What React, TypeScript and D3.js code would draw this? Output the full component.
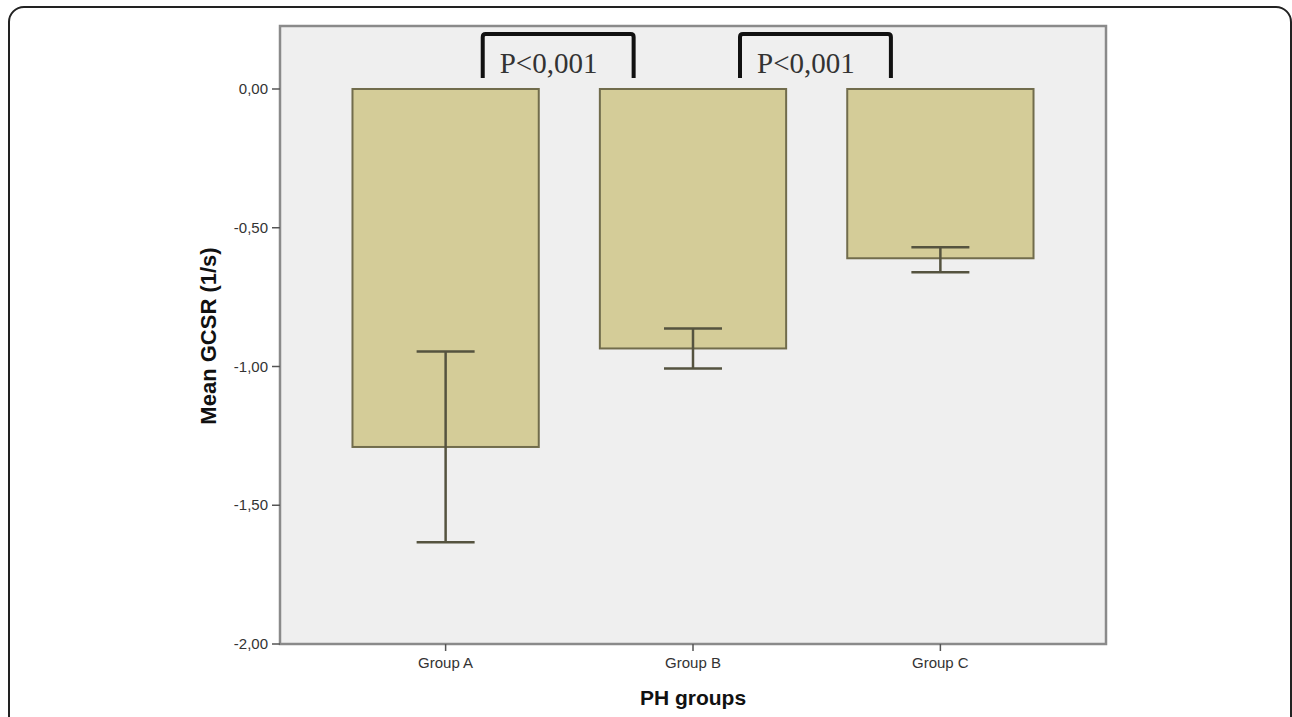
import React from "react";
import * as d3 from "d3";

// Mean GCSR by PH group, with error bar limits
const groups = ["Group A", "Group B", "Group C"];
const means = [-1.29, -0.935, -0.61];
const errLow = [-1.633, -1.007, -0.66];
const errHigh = [-0.946, -0.863, -0.57];

const yTicks = [0, -0.5, -1, -1.5, -2];
const yTickLabels = ["0,00", "-0,50", "-1,00", "-1,50", "-2,00"];

// Significance brackets, positioned in category-index units
const bracketFrom = [0.15, 1.19];
const bracketTo = [0.76, 1.8];
const bracketLabels = ["P<0,001", "P<0,001"];

const W = 1292;
const H = 717;
const plot = { left: 280, right: 1106, top: 26, bottom: 644 };

export default function App() {
  const y = d3.scaleLinear().domain([-2, 0.227]).range([plot.bottom, plot.top]);
  const x = d3
    .scaleBand<string>()
    .domain(groups)
    .range([plot.left, plot.right])
    .paddingInner(0.247)
    .paddingOuter(0.293);
  const bw = x.bandwidth();
  const center = (g: string) => (x(g) as number) + bw / 2;
  const idx = d3
    .scaleLinear()
    .domain([0, 1])
    .range([center(groups[0]), center(groups[1])]);
  const capHalf = 29;

  const bracketTop = y(0.198);
  const bracketLeg = y(0.04);
  const labelBase = y(0.058);

  return (
    <svg
      width={W}
      height={H}
      style={{ position: "absolute", left: 0, top: 0, background: "#fff" }}
      fontFamily="'Liberation Sans', Arial, sans-serif"
    >
      {/* outer frame */}
      <rect x={9} y={7} width={1282} height={740} rx={15} ry={15} fill="none" stroke="#222" strokeWidth={2} />

      {/* plot area */}
      <rect
        x={plot.left}
        y={plot.top}
        width={plot.right - plot.left}
        height={plot.bottom - plot.top}
        fill="#efefef"
        stroke="#8a8a8a"
        strokeWidth={2.5}
      />

      {/* bars */}
      {groups.map((g, i) => (
        <rect
          key={g}
          x={x(g)}
          y={y(0)}
          width={bw}
          height={y(means[i]) - y(0)}
          fill="#d4cc98"
          stroke="#716c4c"
          strokeWidth={2}
        />
      ))}

      {/* error bars */}
      {groups.map((g, i) => {
        const cx = center(g);
        return (
          <g key={g} stroke="#55533f" strokeWidth={2.5} fill="none">
            <line x1={cx} x2={cx} y1={y(errHigh[i])} y2={y(errLow[i])} />
            <line x1={cx - capHalf} x2={cx + capHalf} y1={y(errHigh[i])} y2={y(errHigh[i])} />
            <line x1={cx - capHalf} x2={cx + capHalf} y1={y(errLow[i])} y2={y(errLow[i])} />
          </g>
        );
      })}

      {/* y axis ticks */}
      {yTicks.map((t, i) => (
        <g key={t}>
          <line x1={plot.left - 8} x2={plot.left} y1={y(t)} y2={y(t)} stroke="#555" strokeWidth={1.5} />
          <text x={plot.left - 12} y={y(t)} dy="0.35em" textAnchor="end" fontSize={15} fill="#333">
            {yTickLabels[i]}
          </text>
        </g>
      ))}

      {/* x axis ticks */}
      {groups.map((g) => (
        <g key={g}>
          <line x1={center(g)} x2={center(g)} y1={plot.bottom} y2={plot.bottom + 7} stroke="#555" strokeWidth={1.5} />
          <text x={center(g)} y={plot.bottom + 24} textAnchor="middle" fontSize={15} fill="#333">
            {g}
          </text>
        </g>
      ))}

      {/* axis titles */}
      <text
        transform={`translate(216, ${(plot.top + plot.bottom) / 2 + 1}) rotate(-90)`}
        textAnchor="middle"
        fontSize={22}
        fontWeight="bold"
        fill="#111"
      >
        Mean GCSR (1/s)
      </text>
      <text x={center(groups[1])} y={705} textAnchor="middle" fontSize={21} fontWeight="bold" fill="#111">
        PH groups
      </text>

      {/* significance brackets */}
      {bracketLabels.map((lab, i) => {
        const x1 = idx(bracketFrom[i]);
        const x2 = idx(bracketTo[i]);
        return (
          <g key={i}>
            <path
              d={`M${x1},${bracketLeg} V${bracketTop + 3} Q${x1},${bracketTop} ${x1 + 3},${bracketTop} H${x2 - 3} Q${x2},${bracketTop} ${x2},${bracketTop + 3} V${bracketLeg}`}
              fill="none"
              stroke="#111"
              strokeWidth={4}
            />
            <text x={x1 + 17} y={labelBase} fontSize={29} fill="#333" fontFamily="'Liberation Serif', 'Times New Roman', serif">
              {lab}
            </text>
          </g>
        );
      })}
    </svg>
  );
}
